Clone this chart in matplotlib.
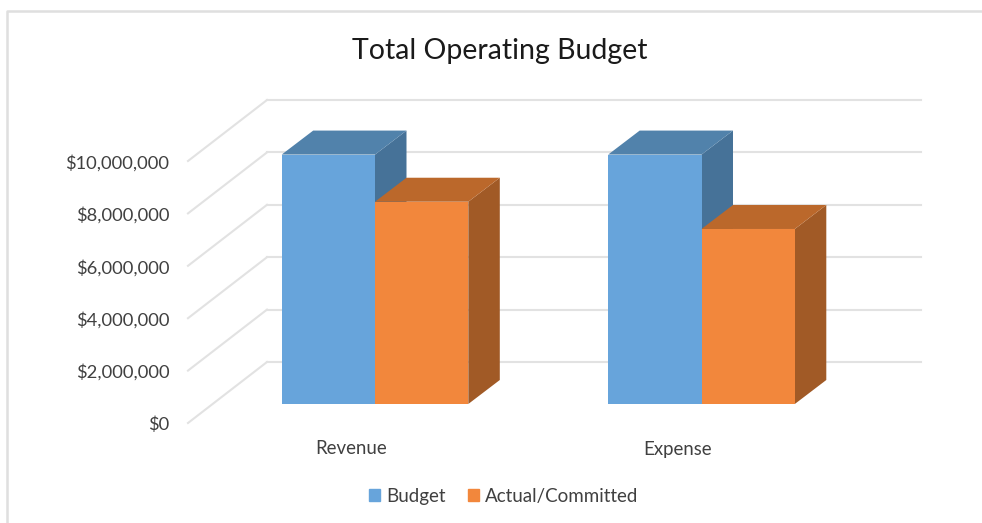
import numpy as np
import matplotlib
matplotlib.use("Agg")
import matplotlib.pyplot as plt
from matplotlib.patches import Patch
from matplotlib.ticker import FuncFormatter

plt.rcParams['font.family'] = ['Lato', 'DejaVu Sans']

categories = ["Revenue", "Expense"]
budget = [9.52e6, 9.52e6]
actual = [7.72e6, 6.68e6]
y_ticks = [0, 2e6, 4e6, 6e6, 8e6, 10e6]

W, H = 982, 523
PX_X = 326.5 / 1          # pixels per category
PX_Y = 26.2 / 1e6         # pixels per dollar
X0, Y0 = 375, 404         # pixel of first category centre / zero line

fig = plt.figure(figsize=(W / 100, H / 100), dpi=100)
ax = fig.add_axes([0, 0, 1, 1])
ax.set_xlim(-X0 / PX_X, (W - X0) / PX_X)
ax.set_ylim(-(H - Y0) / PX_Y, Y0 / PX_Y)
ax.axis("off")


def dx(px):
    return px / PX_X


def dy(px):
    return px / PX_Y


# outer frame of the pasted chart
ax.plot([dx(7 - X0), dx(7 - X0), dx(W - X0)],
        [dy(Y0 - H), dy(Y0 - 11), dy(Y0 - 11)], color="#dfdfdf", lw=1.8, zorder=1)

# back wall gridlines + floor diagonals
for t in y_ticks:
    back = t + dy(42)
    ax.plot([dx(267 - X0), dx(921 - X0)], [back, back], color="#e2e2e2", lw=1.5, zorder=1)
    ax.plot([dx(188 - X0), dx(267 - X0)], [t - dy(19), back], color="#e2e2e2", lw=1.5, zorder=1)
    ax.text(dx(169.5 - X0), t - dy(21), FuncFormatter(lambda v, p: f"${v:,.0f}")(t),
            ha="right", va="center", fontsize=13.2, color="#404040")

bar_w = dx(93.3)
depth_x, depth_y = dx(31.5), dy(24)


def box(x, h, front, top, side):
    ax.fill([x + bar_w, x + bar_w + depth_x, x + bar_w + depth_x, x + bar_w],
            [0, depth_y, h + depth_y, h], color=side, lw=0, zorder=2)
    ax.fill([x, x + depth_x, x + bar_w + depth_x, x + bar_w],
            [h, h + depth_y, h + depth_y, h], color=top, lw=0, zorder=2)
    ax.bar(x, h, width=bar_w, align="edge", color=front, lw=0, zorder=2)


for i, name in enumerate(categories):
    box(i - bar_w, budget[i], "#67a4db", "#5182ab", "#467298")
    box(i, actual[i], "#f2873c", "#bb682b", "#a15a26")
    ax.text(i - dx(24), -dy(45), name, ha="center", va="center", fontsize=13.4, color="#404040")

ax.text(dx(500 - X0), dy(Y0 - 51), "Total Operating Budget", ha="center", va="center",
        fontsize=20.5, color="#1a1a1a")

handles = [Patch(color="#67a4db", label="Budget"), Patch(color="#f2873c", label="Actual/Committed")]
ax.legend(handles=handles, ncol=2, frameon=False, loc="center", fontsize=13.5,
          bbox_to_anchor=(503.5 / W, 1 - 496.5 / H), handlelength=0.6, handleheight=0.6,
          handletextpad=0.3, columnspacing=1.2, labelcolor="#404040")

fig.savefig("out.png", dpi=100)
